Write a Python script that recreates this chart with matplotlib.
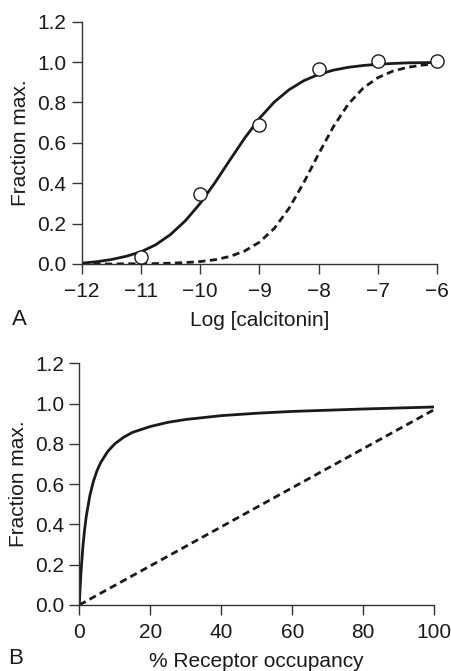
import matplotlib
matplotlib.use("Agg")
import matplotlib.pyplot as plt

plt.rcParams['font.family'] = ['Liberation Sans', 'DejaVu Sans']

# Panel A: concentration-response, log molar calcitonin
log_conc = [-12, -11.75, -11.5, -11.25, -11, -10.75, -10.5, -10.25, -10, -9.75,
            -9.5, -9.25, -9, -8.75, -8.5, -8.25, -8, -7.75, -7.5, -7.25,
            -7, -6.75, -6.5, -6.25, -6]
response_solid = [0.004, 0.011, 0.022, 0.038, 0.060, 0.095, 0.146, 0.214, 0.300, 0.403,
                  0.514, 0.623, 0.721, 0.802, 0.863, 0.908, 0.939, 0.960, 0.974, 0.983,
                  0.989, 0.993, 0.996, 0.997, 0.998]
response_dashed = [0.000, 0.000, 0.000, 0.001, 0.001, 0.002, 0.004, 0.007, 0.012, 0.021,
                   0.037, 0.064, 0.108, 0.176, 0.276, 0.404, 0.546, 0.681, 0.792, 0.871,
                   0.923, 0.955, 0.974, 0.985, 0.992]
obs_log_conc = [-11, -10, -9, -8, -7, -6]
obs_response = [0.036, 0.347, 0.69, 0.966, 1.004, 1.004]

# Panel B: response vs receptor occupancy
occupancy = [0, 0.25, 0.5, 1, 1.5, 2, 3, 4, 5, 6, 8, 10, 12.5, 15, 20, 25, 30,
             40, 50, 60, 70, 80, 90, 100]
response_occ = [0, 0.09, 0.167, 0.286, 0.375, 0.444, 0.545, 0.615, 0.667, 0.706,
                0.762, 0.80, 0.833, 0.857, 0.886, 0.907, 0.921, 0.940, 0.952, 0.961,
                0.967, 0.973, 0.978, 0.983]
linear_occ = [0, 100]
linear_resp = [0, 0.97]

yticks = [0.0, 0.2, 0.4, 0.6, 0.8, 1.0, 1.2]
ink = '#1a1a1a'
fs = 15

fig = plt.figure(figsize=(4.51, 6.71), dpi=100)
ax_a = fig.add_axes([0.181, 0.6066, 0.7885, 0.3611])
ax_b = fig.add_axes([0.1758, 0.0984, 0.787, 0.3602])


def style_axes(ax):
    for side in ('top', 'right'):
        ax.spines[side].set_visible(False)
    for side in ('left', 'bottom'):
        ax.spines[side].set_linewidth(1.0)
        ax.spines[side].set_color('#333333')
    ax.tick_params(direction='out', length=7, width=1.0, color='#333333',
                   labelsize=fs, labelcolor=ink)
    ax.tick_params(axis='x', pad=6)
    ax.tick_params(axis='y', pad=4)
    ax.set_ylim(0, 1.2)
    ax.set_yticks(yticks)
    ax.set_yticklabels([f"{v:.1f}" for v in yticks])


# Panel A
ax_a.plot(log_conc, response_solid, color=ink, lw=2.0)
ax_a.plot(log_conc, response_dashed, color=ink, lw=2.0, ls=(0, (2.6, 1.6)))
ax_a.plot(obs_log_conc, obs_response, 'o', ms=9.5, mfc='white', mec=ink, mew=1.0,
          clip_on=False, zorder=5)
ax_a.set_xlim(-12, -6)
ax_a.set_xticks(range(-12, -5))
style_axes(ax_a)
ax_a.set_ylabel("Fraction max.", fontsize=fs, color=ink, labelpad=5)
ax_a.set_xlabel("Log [calcitonin]", fontsize=fs, color=ink, labelpad=7)
fig.text(0.027, 0.524, "A", fontsize=16, color=ink, va='center', ha='left')

# Panel B
ax_b.plot(occupancy, response_occ, color=ink, lw=2.0)
ax_b.plot(linear_occ, linear_resp, color=ink, lw=2.0, ls=(0, (2.6, 1.6)))
ax_b.set_xlim(0, 100)
ax_b.set_xticks(range(0, 101, 20))
style_axes(ax_b)
ax_b.set_ylabel("Fraction max.", fontsize=fs, color=ink, labelpad=5)
ax_b.set_xlabel("% Receptor occupancy", fontsize=fs, color=ink, labelpad=7)
fig.text(0.018, 0.019, "B", fontsize=16, color=ink, va='center', ha='left')

fig.savefig("out.png", dpi=100)
